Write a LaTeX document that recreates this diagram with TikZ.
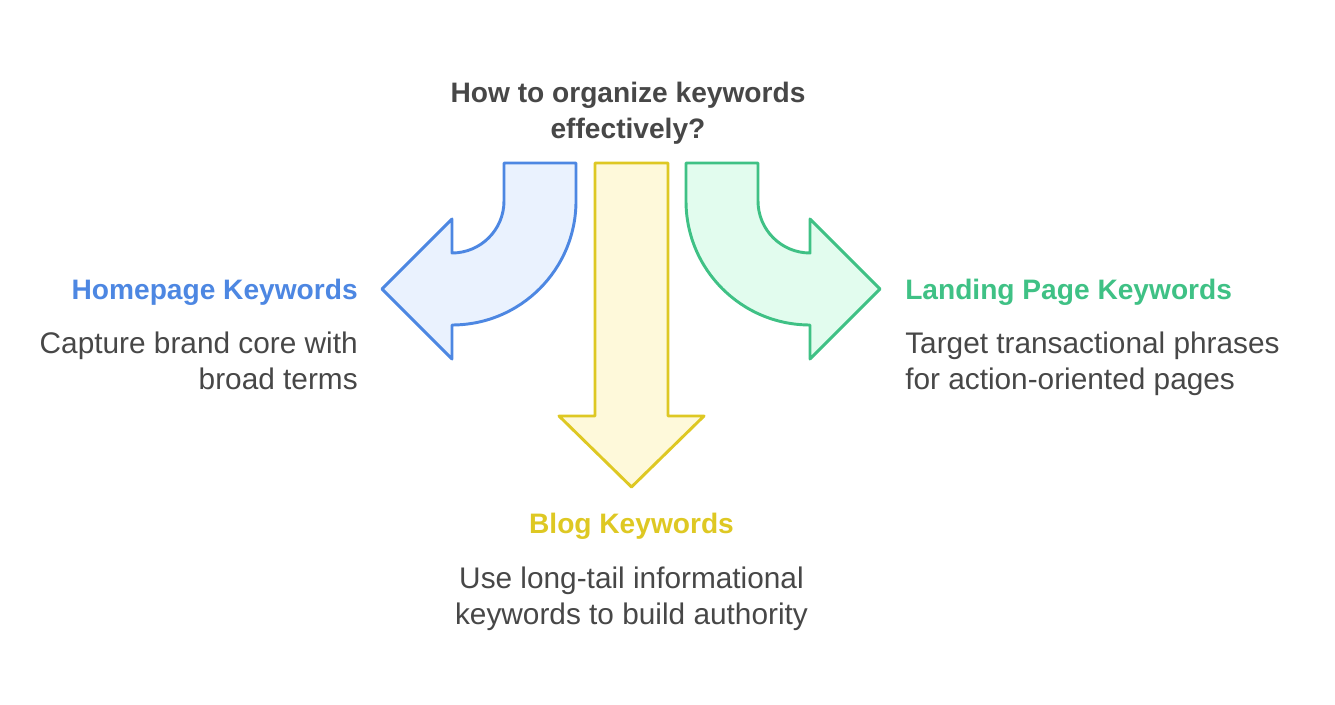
\documentclass[tikz,border=0pt]{standalone}
\usepackage{fontspec}
\setmainfont{Liberation Sans}
\definecolor{homeblue}{HTML}{4D87E2}
\definecolor{homefill}{HTML}{EAF2FE}
\definecolor{bloggold}{HTML}{DEC823}
\definecolor{blogfill}{HTML}{FEF9DA}
\definecolor{landgreen}{HTML}{3FC185}
\definecolor{landfill}{HTML}{E2FCEE}
\definecolor{bodygray}{HTML}{474747}
\tikzset{
  arrowshape/.style={line width=2.2pt, line join=round},
  headtext/.style={inner sep=0pt, font=\bfseries\fontsize{21.1}{27}\selectfont},
  bodytext/.style={inner sep=0pt, text=bodygray, font=\fontsize{22.35}{27}\selectfont}
}
\begin{document}
\begin{tikzpicture}[x=0.75pt, y=-0.75pt]
  \useasboundingbox (0,0) rectangle (1335,705);
  % Question (base = last line).
  \node[headtext, text=bodygray, align=center, anchor=base] (question) at (628,138.5)
    {How to organize keywords\\effectively?};
  % Left arrow.
  \draw[arrowshape, draw=homeblue, fill=homefill]
    (504,163) -- (576,163) -- (576,201) arc[start angle=0, end angle=90, radius=124]
    -- (452,359) -- (382,289) -- (452,219) -- (452,253)
    arc[start angle=90, end angle=0, radius=52] -- cycle;
  % Middle arrow.
  \draw[arrowshape, draw=bloggold, fill=blogfill]
    (595,163) -- (668,163) -- (668,416) -- (704,416) -- (631.5,487)
    -- (559,416) -- (595,416) -- cycle;
  % Right arrow.
  \draw[arrowshape, draw=landgreen, fill=landfill]
    (686,163) -- (758,163) -- (758,201) arc[start angle=180, end angle=90, radius=52]
    -- (810,219) -- (880,289) -- (810,359) -- (810,325)
    arc[start angle=90, end angle=180, radius=124] -- cycle;
  % Homepage.
  \node[headtext, text=homeblue, anchor=base east] (homehead) at (358,300) {Homepage Keywords};
  \node[bodytext, align=right, anchor=base east] (hometext) at (358,390)
    {Capture brand core with\\broad terms};
  % Blog.
  \node[headtext, text=bloggold, anchor=base] (bloghead) at (631.5,533) {Blog Keywords};
  \node[bodytext, align=center, anchor=base] (blogtext) at (631.5,624.5)
    {Use long-tail informational\\keywords to build authority};
  % Landing page.
  \node[headtext, text=landgreen, anchor=base west] (landhead) at (905,300) {Landing Page Keywords};
  \node[bodytext, align=left, anchor=base west] (landtext) at (905,390)
    {Target transactional phrases\\for action-oriented pages};
\end{tikzpicture}
\end{document}
